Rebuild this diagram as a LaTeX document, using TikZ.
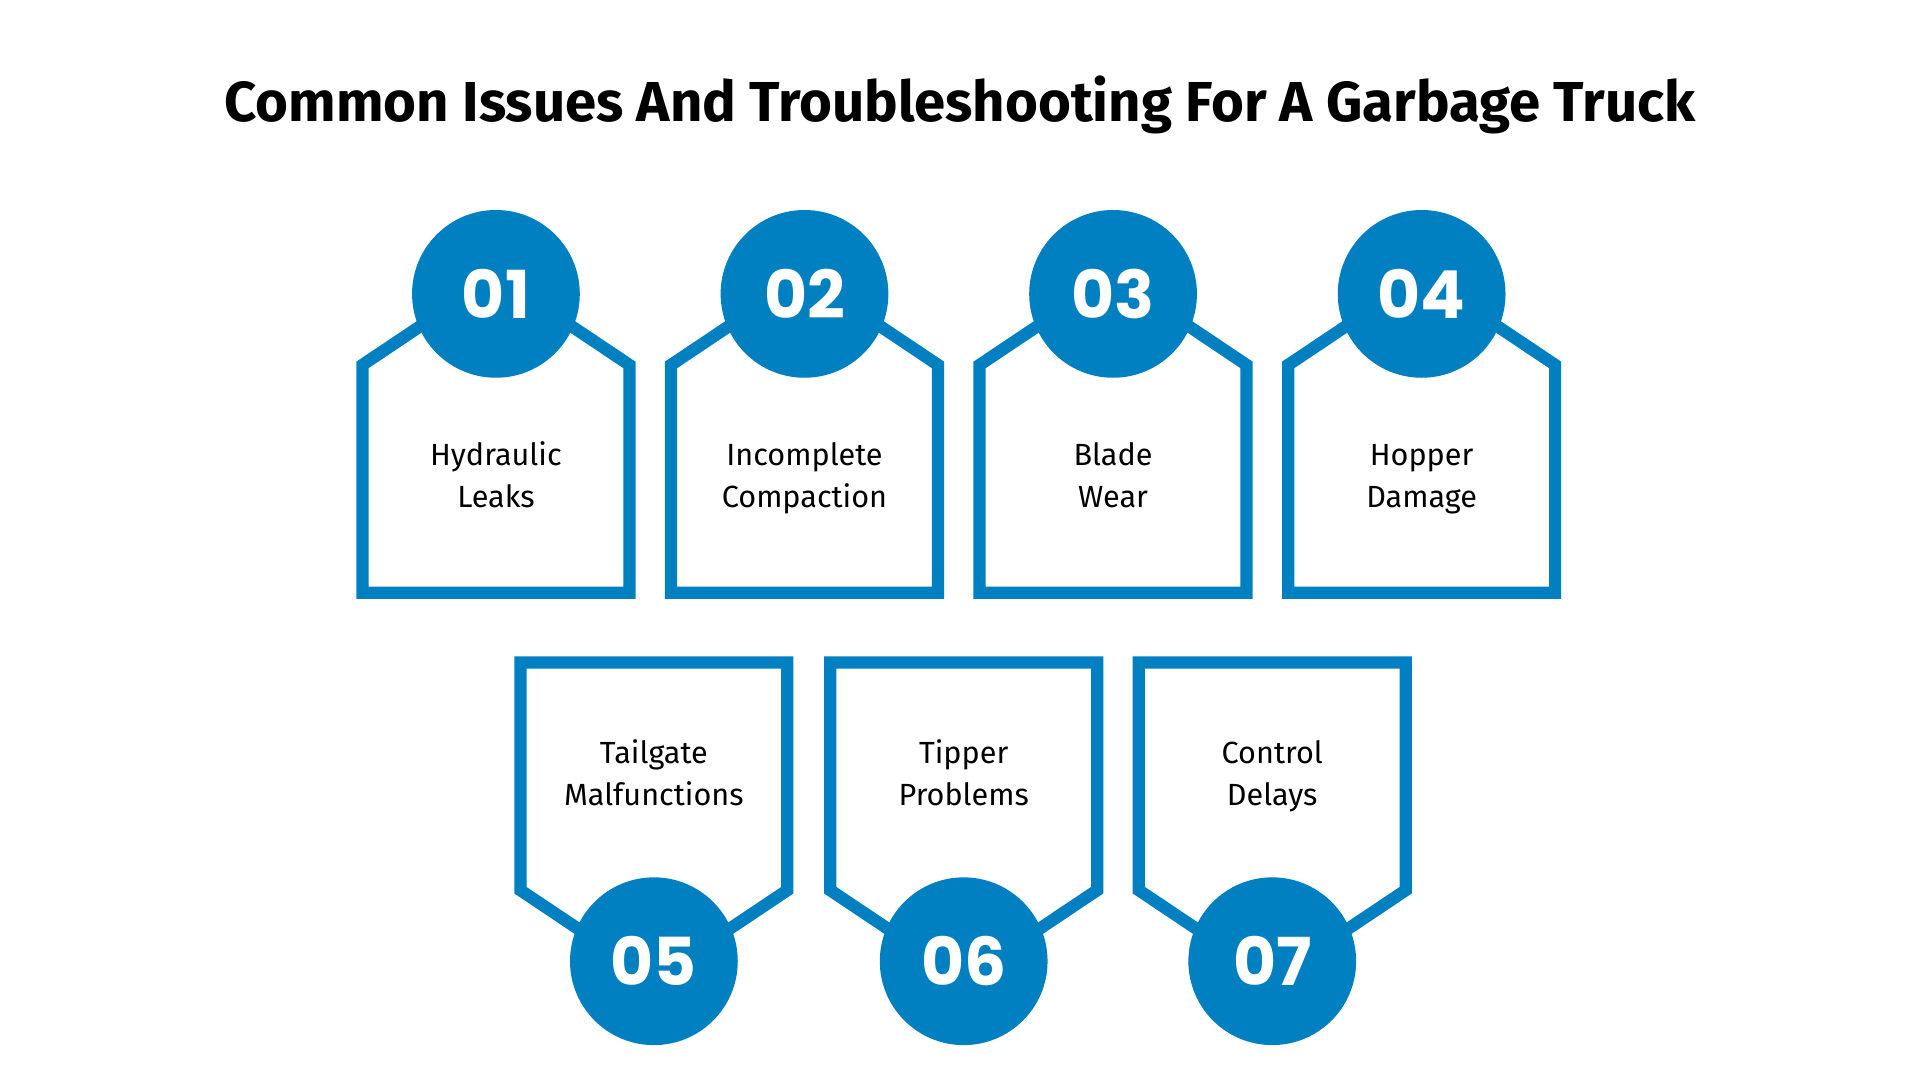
\documentclass[tikz,border=0pt]{standalone}
\usepackage{fontspec}
\setmainfont{Fira Sans}
\newfontfamily\numfont{Poppins}
\definecolor{issueblue}{RGB}{0,128,192}

\begin{document}
\begin{tikzpicture}[x = 1pt, y = -1pt]
    \useasboundingbox (0,0) rectangle (1568,882);
    \tikzset{
      frame/.style = {draw = issueblue, line width = 10pt, line join = miter},
      badge/.style = {circle, fill = issueblue, minimum size = 137pt, inner sep = 0pt,
        text = white, font = \numfont\bfseries\fontsize{54}{60}\selectfont},
      label/.style = {align = center, inner sep = 0pt, text height = 40pt, text depth = 7pt,
        font = \fontsize{25}{34}\selectfont}
    }
    \node[font = \bfseries\fontsize{46}{52}\selectfont] (title) at (784,86) {Common Issues And Troubleshooting For A Garbage Truck};
    % Top row
    \foreach \x/\n/\t in {405/01/{Hydraulic\\Leaks}, 657/02/{Incomplete\\Compaction},
        909/03/{Blade\\Wear}, 1161/04/{Hopper\\Damage}} {
      \draw[frame] (\x-109,298) -- (\x,225) -- (\x+109,298) -- (\x+109,484) -- (\x-109,484) -- cycle;
      \node[badge] (top\n) at (\x,240) {\n};
      \node[label] (text\n) at (\x,398) {\t};
    }
    % Bottom row
    \foreach \x/\n/\t in {534/05/{Tailgate\\Malfunctions}, 787/06/{Tipper\\Problems},
        1039/07/{Control\\Delays}} {
      \draw[frame] (\x-109,541) -- (\x+109,541) -- (\x+109,727) -- (\x,800) -- (\x-109,727) -- cycle;
      \node[badge] (bot\n) at (\x,785) {\n};
      \node[label] (text\n) at (\x,641) {\t};
    }
  \end{tikzpicture}
\end{document}
